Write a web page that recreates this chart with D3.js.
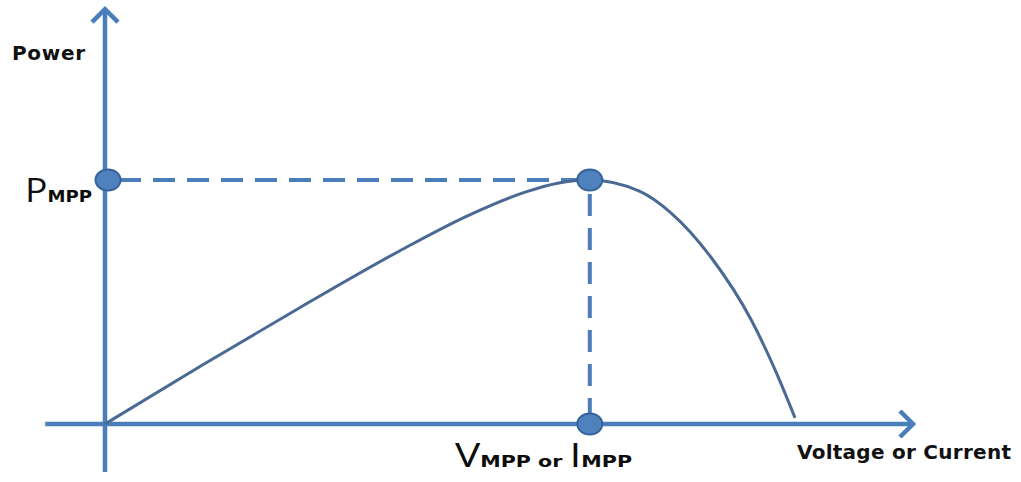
<!DOCTYPE html>
<html>
<head>
<meta charset="utf-8">
<script src="https://cdn.jsdelivr.net/npm/d3@7"></script>
<style>
  html, body { margin: 0; padding: 0; background: #ffffff; }
  svg { display: block; }
</style>
</head>
<body>
<svg id="chart" width="1021" height="482"></svg>
<script>
// Power curve samples (arbitrary units): voltage/current on x, power on y
const voltage = [0, 1.18, 2.41, 3.65, 4.5, 5.2, 5.6, 6.0, 6.62, 7.0, 7.5, 8.0, 8.3, 8.54];
const power   = [0, 1.42, 2.86, 4.26, 5.13, 5.70, 5.92, 6.0, 5.72, 5.2, 4.1, 2.55, 1.3, 0.15];

// Maximum power point
const vMpp = 6.0;
const pMpp = 6.0;

// Axis extents (same units as the data)
const xExtent = [-0.74, 10.0];
const yExtent = [-1.18, 10.2];

// Label texts
const yTitle = "Power";
const xTitle = "Voltage or Current";

const svg = d3.select("#chart");
const axisColor = "#4a7ebb";
const curveColor = "#4a6a94";

const x = d3.scaleLinear().domain([0, 10]).range([105, 913]);
const y = d3.scaleLinear().domain([0, 10]).range([424, 17.3]);

// Axes with open arrow heads
const axes = svg.append("g")
  .attr("stroke", axisColor)
  .attr("stroke-width", 4.5)
  .attr("fill", "none")
  .attr("stroke-linecap", "butt");

axes.append("line")
  .attr("x1", x(xExtent[0])).attr("y1", y(0))
  .attr("x2", x(xExtent[1]) - 2).attr("y2", y(0));
axes.append("line")
  .attr("x1", x(0)).attr("y1", y(yExtent[0]))
  .attr("x2", x(0)).attr("y2", y(yExtent[1]) + 2);

const head = 13;
axes.append("path")
  .attr("stroke-linejoin", "miter")
  .attr("d", `M${x(xExtent[1]) - head},${y(0) - head} L${x(xExtent[1])},${y(0)} L${x(xExtent[1]) - head},${y(0) + head}`);
axes.append("path")
  .attr("stroke-linejoin", "miter")
  .attr("d", `M${x(0) - head},${y(yExtent[1]) + head} L${x(0)},${y(yExtent[1])} L${x(0) + head},${y(yExtent[1]) + head}`);

// Dashed guides to the maximum power point
const guides = svg.append("g")
  .attr("stroke", axisColor)
  .attr("stroke-width", 4)
  .attr("stroke-dasharray", "22 12");
guides.append("line")
  .attr("x1", x(0) + 14).attr("y1", y(pMpp))
  .attr("x2", x(vMpp)).attr("y2", y(pMpp));
guides.append("line")
  .attr("x1", x(vMpp)).attr("y1", y(pMpp) + 14)
  .attr("x2", x(vMpp)).attr("y2", y(0));

// Power curve
const line = d3.line()
  .x((d, i) => x(voltage[i]))
  .y((d, i) => y(power[i]))
  .curve(d3.curveMonotoneX);

svg.append("path")
  .datum(voltage)
  .attr("d", line)
  .attr("fill", "none")
  .attr("stroke", curveColor)
  .attr("stroke-width", 3);

// Markers at the MPP and its projections
const markers = [
  [0, pMpp],
  [vMpp, pMpp],
  [vMpp, 0]
];
svg.append("g").selectAll("ellipse")
  .data(markers)
  .join("ellipse")
  .attr("cx", d => x(d[0]) + (d[0] === 0 ? 3 : 0))
  .attr("cy", d => y(d[1]))
  .attr("rx", 12.5)
  .attr("ry", 10.5)
  .attr("fill", "#4f81bd")
  .attr("stroke", "#36649c")
  .attr("stroke-width", 2);

// Axis titles
svg.append("text")
  .attr("x", 12).attr("y", 60)
  .attr("font-family", "DejaVu Sans")
  .attr("font-weight", "bold")
  .attr("font-size", 20)
  .attr("textLength", 73)
  .attr("fill", "#111111")
  .text(yTitle);

svg.append("text")
  .attr("x", 797).attr("y", 459)
  .attr("font-family", "DejaVu Sans")
  .attr("font-weight", "bold")
  .attr("font-size", 20)
  .attr("textLength", 214)
  .attr("fill", "#111111")
  .text(xTitle);

// Subscripted labels
function subLabel(xPos, yPos, width, parts) {
  const t = svg.append("text")
    .attr("x", xPos).attr("y", yPos)
    .attr("textLength", width)
    .attr("lengthAdjust", "spacingAndGlyphs")
    .attr("fill", "#0d0d0d");
  parts.forEach(p => {
    t.append("tspan")
      .attr("font-family", p.big ? "Open Sans" : "DejaVu Sans")
      .attr("font-weight", p.big ? "normal" : "bold")
      .attr("font-size", p.big ? 33 : 16)
      .text(p.t);
  });
}
subLabel(25, 202, 67, [{t: "P", big: true}, {t: "MPP"}]);
subLabel(455, 467, 177, [{t: "V", big: true}, {t: "MPP or "}, {t: "I", big: true}, {t: "MPP"}]);
</script>
</body>
</html>
